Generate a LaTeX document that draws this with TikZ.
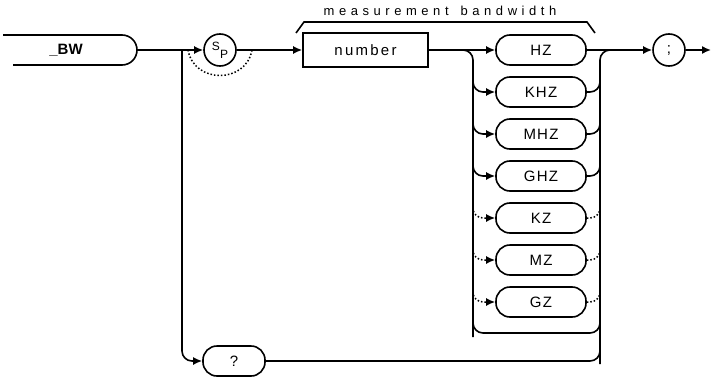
\documentclass[tikz,border=0pt]{standalone}
\usepackage{fontspec}
\setmainfont{Liberation Sans}
\usetikzlibrary{arrows.meta,positioning}

\tikzset{
  rail/.style={line width=1.6pt},
  flow/.style={rail, -{Latex[length=9pt,width=8pt]}},
  skip/.style={line width=1.5pt, dotted},
  unitbox/.style={draw, rail, rounded corners=14pt, minimum width=90pt,
    minimum height=30pt, inner sep=0pt,
    font=\fontsize{15}{17}\selectfont\addfontfeature{LetterSpace=8}},
  symbol/.style={draw, circle, rail, minimum size=32pt, inner sep=0pt},
}

\begin{document}
\begin{tikzpicture}[x=1pt,y=-1pt]
  \useasboundingbox (0,0) rectangle (712,380);

  % Define nodes
  \node[font=\bfseries\fontsize{15}{17}\selectfont] (bw) at (66,50) {\_BW};%
  \coordinate (bwend) at (137,50);%
  \coordinate (fork) at (182,50);%
  \node[symbol] (sp) at (220,50) {\fontsize{12}{12}\selectfont\raisebox{4pt}{S}\raisebox{-4pt}{P}};%
  \node[draw, rail, minimum width=125pt, minimum height=34pt, inner sep=0pt,
    font=\fontsize{15}{17}\selectfont\addfontfeature{LetterSpace=15}] (num) at (365.5,50) {number};%
  \node[font=\fontsize{13}{15}\selectfont] (label) at (440,11)
    {\addfontfeature{LetterSpace=35}measurement\hspace{12pt}bandwidth};%
  \node[unitbox] (hz) at (541,50) {HZ};%
  \node[unitbox, below=10.4pt of hz] (khz) {KHZ};%
  \node[unitbox, below=10.4pt of khz] (mhz) {MHZ};%
  \node[unitbox, below=10.4pt of mhz] (ghz) {GHZ};%
  \node[unitbox, below=10.4pt of ghz] (kz) {KZ};%
  \node[unitbox, below=10.4pt of kz] (mz) {MZ};%
  \node[unitbox, below=10.4pt of mz] (gz) {GZ};%
  \node[unitbox, minimum width=62pt] (query) at (234,361) {?};%
  \node[symbol, font=\fontsize{15}{17}\selectfont] (semi) at (669,50) {;};%
  \coordinate (end) at (711,50);%

  % Rails of the unit column
  \coordinate (lsplit) at (455,50);%
  \coordinate (inrail) at (473,50);%
  \coordinate (lfoot) at (473,337);%
  \coordinate (outrail) at (600,50);%
  \coordinate (rjoin) at (615,50);%
  \coordinate (rfoot) at (600,364);%

  % Keyword box, open on the left
  \draw[rail, rounded corners=15pt] (3,35) -- (bwend |- 0,35) -- (bwend |- 0,65) -- (13,65);

  % Bracket over the value
  \draw[rail] (296,33) -- (304,22) -- (587,22) -- (595,33);

  % Main path
  \draw[flow] (bwend) -- (sp);
  \draw[flow] (sp) -- (num);
  \draw[flow] (num) -- (hz);
  \draw[flow] (hz) -- (semi);
  \draw[flow] (semi) -- (end);

  % Optional space, query branch
  \draw[skip] (188,50) .. controls (194,84) and (246,84) .. (252,50);
  \draw[flow, rounded corners=10pt] (fork) |- (query);
  \draw[rail, rounded corners=10pt] (query) -| (600,338);

  % Unit rails
  \draw[rail, rounded corners=10pt] (lsplit) -| (lfoot);
  \draw[rail, rounded corners=10pt] (rfoot) |- (rjoin);
  \draw[rail, rounded corners=10pt] (473,312) |- (536,333) -| (600,312);

  % Alternatives
  \draw[flow, rounded corners=10pt] ([yshift=16pt]inrail |- khz) |- (khz);
  \draw[rail, rounded corners=10pt] (khz) -| ([yshift=16pt]outrail |- khz);
  \draw[flow, rounded corners=10pt] ([yshift=16pt]inrail |- mhz) |- (mhz);
  \draw[rail, rounded corners=10pt] (mhz) -| ([yshift=16pt]outrail |- mhz);
  \draw[flow, rounded corners=10pt] ([yshift=16pt]inrail |- ghz) |- (ghz);
  \draw[rail, rounded corners=10pt] (ghz) -| ([yshift=16pt]outrail |- ghz);

  % Short forms, dotted
  \draw[skip, rounded corners=10pt] ([yshift=14pt]inrail |- kz) |- ([xshift=-9pt]kz.west);
  \draw[flow] ([xshift=-9pt]kz.west) -- (kz);
  \draw[skip, rounded corners=10pt] (kz) -| ([yshift=14pt]outrail |- kz);
  \draw[skip, rounded corners=10pt] ([yshift=14pt]inrail |- mz) |- ([xshift=-9pt]mz.west);
  \draw[flow] ([xshift=-9pt]mz.west) -- (mz);
  \draw[skip, rounded corners=10pt] (mz) -| ([yshift=14pt]outrail |- mz);
  \draw[skip, rounded corners=10pt] ([yshift=14pt]inrail |- gz) |- ([xshift=-9pt]gz.west);
  \draw[flow] ([xshift=-9pt]gz.west) -- (gz);
  \draw[skip, rounded corners=10pt] (gz) -| ([yshift=14pt]outrail |- gz);
\end{tikzpicture}
\end{document}
